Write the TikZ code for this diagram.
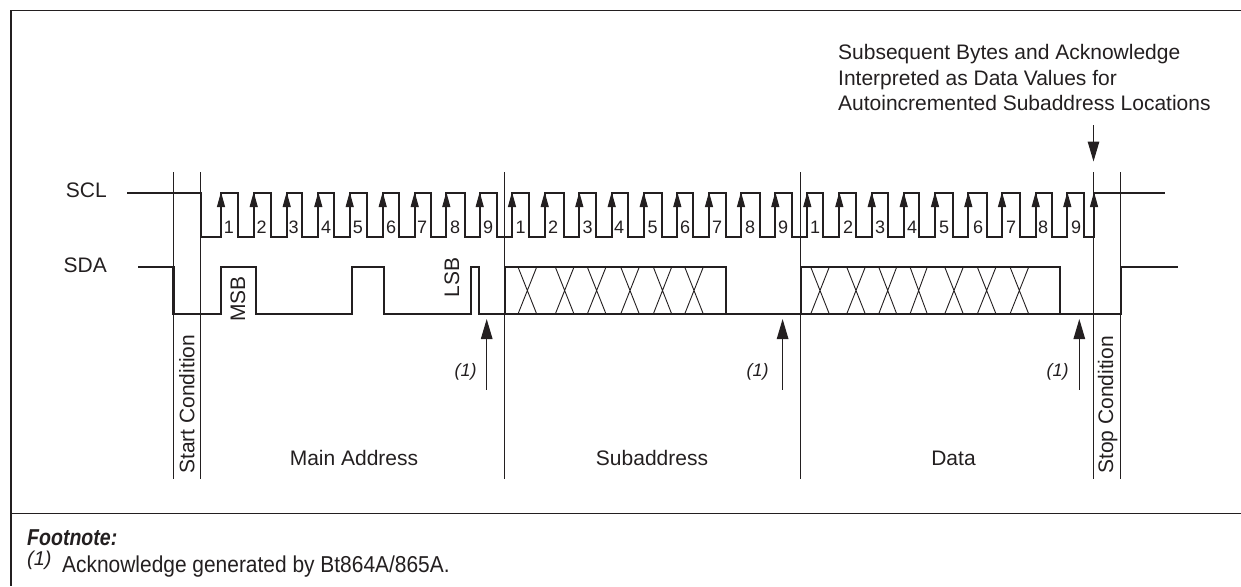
\documentclass[tikz,border=0pt]{standalone}
\usepackage{fontspec}
\setmainfont{Liberation Sans}
\newfontfamily\notefont[FakeStretch=0.91]{Liberation Sans}
\newfontfamily\headfont[FakeStretch=0.85]{Liberation Sans}
\usepackage{xcolor}
\usetikzlibrary{arrows.meta,positioning}
\definecolor{ink}{HTML}{231F20}

\begin{document}
\begin{tikzpicture}[
    x=1pt, y=-1pt, color=ink,
    wave/.style={line width=2.3pt, line join=miter},
    frame/.style={line width=1.2pt},
    guide/.style={line width=1.1pt},
    cross/.style={line width=0.9pt},
    clock/.style={line width=1.1pt, -{Triangle[length=15pt,width=8pt]}},
    ack/.style={line width=1.2pt, -{Triangle[length=20pt,width=11.5pt]}},
    label/.style={inner sep=0pt, anchor=base, font=\fontsize{21}{25.5}\selectfont},
    side/.style={label, anchor=base west, rotate=90},
    digit/.style={inner sep=0pt, font=\fontsize{18}{20}\selectfont},
    ackmark/.style={inner sep=0pt, font=\fontsize{18}{20}\selectfont\itshape}
]
\useasboundingbox (0,0) rectangle (1241,586);

% Frame
\draw[frame] (1241,10.5) -- (11,10.5) -- (11,586);
\draw[frame] (11,513.5) -- (1241,513.5);

% Guides
\foreach \x in {173.5,200.5,504.7,800.7,1093.7,1120.5}
    \draw[guide] (\x,172) -- (\x,479);

% SCL
\draw[wave] (127,193) -- (200.7,193) -- (200.7,236.7)
    \foreach \r/\f in {221/237.7,253.7/271,286.7/302.3,318.3/334,349.7/367,382.7/398.7,414.7/431,446.3/465,479.7/496.7,
        512/529.3,544.7/564,579.3/596,611.7/628.3,643.7/662,677.3/693.3,709/725.7,741/760,775.3/791.7,
        807.3/823.3,839.3/856,871.7/888.3,903.7/919.3,935/953.3,968.3/986.7,1002/1020,1035.7/1051.7,1067.3/1084.3}
    { -- (\r,236.7) -- (\r,193) -- (\f,193) -- (\f,236.7) }
    -- (1094,236.7) -- (1094,193) -- (1165,193);
\foreach \r in {221,253.7,286.7,318.3,349.7,382.7,414.7,446.3,479.7,
        512,544.7,579.3,611.7,643.7,677.3,709,741,775.3,
        807.3,839.3,871.7,903.7,935,968.3,1002,1035.7,1067.3,1094}
    \draw[clock] (\r,225) -- (\r,192);
\foreach \x/\t [count=\i] in {229/1,261.7/2,293.7/3,326/4,358/5,391/6,422/7,455/8,488/9,
        520.7/1,553/2,587.7/3,619/4,652.7/5,685/6,717/7,750/8,783/9,
        815/1,848/2,880/3,912/4,944/5,978/6,1011/7,1043/8,1076/9}
    \node[digit] (bit\i) at (\x,227) {\t};

% SDA
\draw[wave] (138,267) -- (173.5,267) -- (173.5,314) -- (220.7,314) -- (220.7,267) -- (256,267) -- (256,314)
    -- (351.7,314) -- (351.7,267) -- (384.3,267) -- (384.3,314) -- (470.7,314) -- (470.7,267) -- (479.3,267)
    -- (479.3,314) -- (504.7,314) -- (504.7,267) -- (726,267) -- (726,314) -- (800.7,314) -- (800.7,267)
    -- (1060,267) -- (1060,314) -- (1120.7,314) -- (1120.7,267) -- (1178,267);
\draw[wave] (504.7,314) -- (726,314) (800.7,314) -- (1060,314);
\foreach \a/\b in {518/536.7,555.3/574,587.3/606,620.7/639.3,653.3/671.7,684.7/703.3,
        810.7/829.3,846.7/865.3,878.7/896.7,910/927.3,944.7/963.3,977.3/996,1010/1028.7}
    \draw[cross] (\a,267) -- (\b,314) (\b,267) -- (\a,314);

% Signal names
\node[label, anchor=base east] (scl) at (107,197.5) {SCL};
\node[label, anchor=base east] (sda) at (107,272) {SDA};
\node[side] (msb) at (245,321.7) {MSB};
\node[side] (lsb) at (459,297.3) {LSB};

% Acknowledge arrows
\foreach \x/\l/\n in {486.7/465.7/a,782.6/757.6/b,1079.3/1057.6/c} {
    \coordinate (acktail\n) at (\x,389.5);
    \coordinate (acktip\n) at (\x,319);
    \draw[ack] (acktail\n) -- (acktip\n);
    \node[ackmark] (ackno\n) at (\l,372) {(1)};
}

% Sections
\node[side] (start) at (194.3,474) {Start Condition};
\node[side] (stop) at (1113,474) {Stop Condition};
\node[label] (main) at (354,465) {Main Address};
\node[label] (sub) at (652,465) {Subaddress};
\node[label] (data) at (953.5,465) {Data};

% Callout
\node[label, anchor=base west, align=left] (bytes) at (838,110.7) {Subsequent Bytes and Acknowledge\\
    Interpreted as Data Values for\\
    Autoincremented Subaddress Locations};
\coordinate (calltail) at (1093.5,125);
\coordinate (calltip) at (1093.5,161.5);
\draw[ack] (calltail) -- (calltip);

% Footnote
\node[inner sep=0pt, anchor=base west, font=\fontsize{23}{25}\selectfont\headfont\bfseries\itshape] (foot) at (27,545) {Footnote:};
\node[inner sep=0pt, anchor=base west, font=\fontsize{20}{22}\selectfont\itshape] (footmark) at (27,565) {(1)};
\node[inner sep=0pt, anchor=base west, font=\fontsize{23}{25}\selectfont\notefont] (foottext) at (62,572) {Acknowledge generated by Bt864A/865A.};

\end{tikzpicture}
\end{document}
